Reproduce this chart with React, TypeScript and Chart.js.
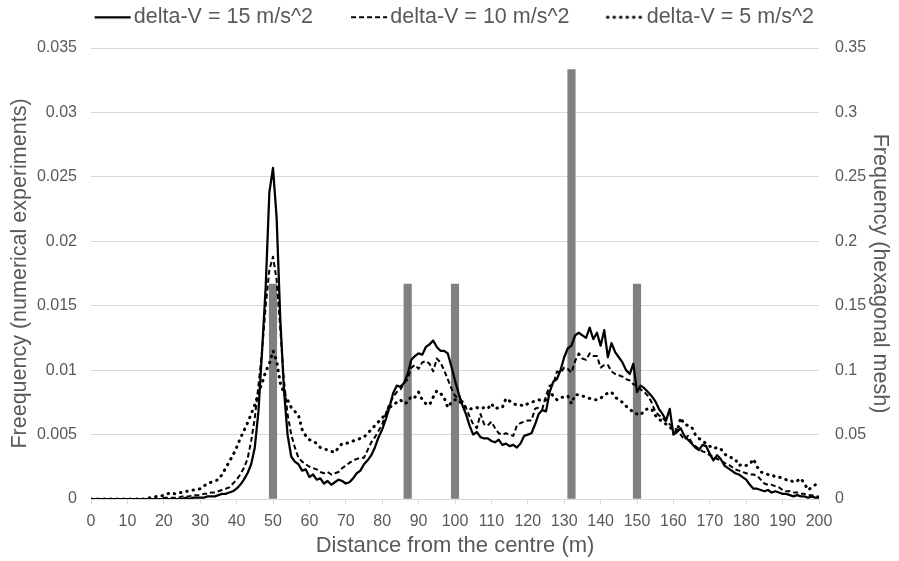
import React, { useEffect, useRef } from "react";
import { Chart, registerables } from "chart.js";

Chart.register(...registerables);

// Distance from the centre (m), one point per metre
const DISTANCE: number[] = Array.from({ length: 201 }, (_, i) => i);

const SERIES_LABELS = ["delta-V = 15 m/s^2", "delta-V = 10 m/s^2", "delta-V = 5 m/s^2"];

const FREQ_DV15: number[] = [
  0, 0, 0, 0, 0, 0, 0, 0, 0, 0,
  0, 0, 0, 0, 0, 0, 0, 0, 0, 0,
  0, 0, 0, 0, 0, 0, 0.0001, 0, 0.0001, 0.0001,
  0.0001, 0.0001, 0.0002, 0.0002, 0.0002, 0.0003, 0.0004, 0.0004, 0.0005, 0.0006,
  0.0008, 0.0011, 0.0015, 0.002, 0.0027, 0.004, 0.0068, 0.0115, 0.0165, 0.0238,
  0.0257, 0.0218, 0.014, 0.0085, 0.005, 0.0033, 0.0029, 0.0027, 0.0022, 0.0023,
  0.0017, 0.0019, 0.0015, 0.0016, 0.0012, 0.0014, 0.0011, 0.0013, 0.0015, 0.0014,
  0.0012, 0.0013, 0.0016, 0.002, 0.0022, 0.0027, 0.003, 0.0034, 0.004, 0.0048,
  0.0054, 0.0062, 0.0071, 0.0082, 0.0088, 0.0087, 0.009, 0.0097, 0.0108, 0.0111,
  0.0113, 0.0112, 0.0118, 0.012, 0.0123, 0.0118, 0.0115, 0.0115, 0.0113, 0.0103,
  0.0092, 0.0082, 0.0073, 0.0066, 0.0057, 0.005, 0.0052, 0.0048, 0.0047, 0.0047,
  0.0045, 0.0044, 0.0046, 0.0042, 0.0043, 0.0041, 0.0042, 0.004, 0.0043, 0.0049,
  0.005, 0.0051, 0.0058, 0.0066, 0.0069, 0.0068, 0.0083, 0.0091, 0.0093, 0.01,
  0.011, 0.0117, 0.0119, 0.0127, 0.0129, 0.0127, 0.0125, 0.0133, 0.0124, 0.0129,
  0.0119, 0.0131, 0.011, 0.0121, 0.0114, 0.011, 0.0106, 0.01, 0.0097, 0.0105,
  0.0083, 0.0088, 0.0086, 0.0083, 0.008, 0.0076, 0.007, 0.0066, 0.0061, 0.007,
  0.005, 0.0052, 0.0055, 0.0049, 0.0046, 0.0043, 0.004, 0.0038, 0.0042, 0.0041,
  0.0035, 0.003, 0.0034, 0.0031, 0.0026, 0.0024, 0.0022, 0.002, 0.0019, 0.0017,
  0.0015, 0.0011, 0.0008, 0.0008, 0.0007, 0.0006, 0.0007, 0.0005, 0.0006, 0.0005,
  0.0004, 0.0004, 0.0003, 0.0002, 0.0003, 0.0002, 0.0002, 0.0001, 0.0002, 0.0001,
  0.0001,
];

const FREQ_DV10: number[] = [
  0, 0, 0, 0, 0, 0, 0, 0, 0, 0,
  0, 0, 0, 0, 0, 0, 0, 0, 0, 0,
  0.0001, 0.0001, 0.0001, 0.0001, 0.0001, 0.0002, 0.0002, 0.0002, 0.0003, 0.0003,
  0.0003, 0.0004, 0.0004, 0.0005, 0.0005, 0.0006, 0.0007, 0.0008, 0.0009, 0.0012,
  0.0015, 0.0019, 0.0024, 0.0031, 0.0045, 0.0063, 0.0088, 0.0115, 0.015, 0.0178,
  0.0188, 0.017, 0.0132, 0.0092, 0.0066, 0.005, 0.004, 0.0032, 0.0029, 0.0027,
  0.0025, 0.0024, 0.0023, 0.0021, 0.002, 0.0021, 0.0019, 0.002, 0.0021, 0.0024,
  0.0026, 0.0028, 0.003, 0.0031, 0.0032, 0.0032, 0.0038, 0.0044, 0.0048, 0.0053,
  0.0058, 0.0066, 0.0074, 0.0079, 0.0083, 0.0085, 0.009, 0.0093, 0.0102, 0.0104,
  0.0101, 0.0106, 0.0107, 0.0105, 0.0099, 0.0109, 0.0106, 0.01, 0.0093, 0.0086,
  0.008, 0.0078, 0.0076, 0.0071, 0.0064, 0.0058, 0.0055, 0.0066, 0.0058, 0.0057,
  0.006, 0.0055, 0.0051, 0.005, 0.0051, 0.005, 0.0049, 0.0057, 0.0059, 0.006,
  0.0061, 0.0061, 0.007, 0.0071, 0.007, 0.008, 0.0088, 0.0089, 0.0099, 0.0098,
  0.0102, 0.0101, 0.0098, 0.0107, 0.0113, 0.0109, 0.0108, 0.0113, 0.0111, 0.0111,
  0.0102, 0.0104, 0.0104, 0.0099, 0.0097, 0.0096, 0.0095, 0.0093, 0.0092, 0.0089,
  0.0088, 0.0085, 0.0083, 0.008, 0.0075, 0.0068, 0.0065, 0.0063, 0.006, 0.0058,
  0.0055, 0.0054, 0.005, 0.0046, 0.0049, 0.0044, 0.0041, 0.0039, 0.0037, 0.0036,
  0.0034, 0.0033, 0.0031, 0.003, 0.0028, 0.0027, 0.0025, 0.0023, 0.0022, 0.0021,
  0.002, 0.0019, 0.0019, 0.0018, 0.0015, 0.0012, 0.0011, 0.0011, 0.001, 0.0009,
  0.0007, 0.0006, 0.0006, 0.0005, 0.0005, 0.0004, 0.0004, 0.0003, 0.0003, 0.0002,
  0.0002,
];

const FREQ_DV5: number[] = [
  0, 0, 0, 0, 0, 0, 0, 0, 0, 0,
  0, 0, 0, 0, 0, 0, 0.0001, 0.0001, 0.0002, 0.0002,
  0.0003, 0.0004, 0.0005, 0.0004, 0.0005, 0.0005, 0.0006, 0.0006, 0.0007, 0.0007,
  0.0008, 0.001, 0.0012, 0.0013, 0.0014, 0.0015, 0.0019, 0.0024, 0.0029, 0.0034,
  0.004, 0.0047, 0.0053, 0.0059, 0.0066, 0.0073, 0.0082, 0.009, 0.0099, 0.0105,
  0.0115, 0.0107, 0.009, 0.0082, 0.0077, 0.0071, 0.0068, 0.0065, 0.0054, 0.0049,
  0.0046, 0.0045, 0.0043, 0.004, 0.0039, 0.0038, 0.0037, 0.0036, 0.004, 0.0043,
  0.0043, 0.0044, 0.0045, 0.0046, 0.0047, 0.0048, 0.0051, 0.0054, 0.0057, 0.006,
  0.0063, 0.0066, 0.0071, 0.0073, 0.0075, 0.0077, 0.0074, 0.0075, 0.008, 0.0079,
  0.0083, 0.0077, 0.0074, 0.0073, 0.0079, 0.0084, 0.0082, 0.0079, 0.0071, 0.0075,
  0.0077, 0.0077, 0.0073, 0.0071, 0.007, 0.007, 0.0071, 0.007, 0.0071, 0.007,
  0.0074, 0.007, 0.0071, 0.0071, 0.0078, 0.0076, 0.0074, 0.0073, 0.0073, 0.0072,
  0.0074, 0.0075, 0.0076, 0.0077, 0.0076, 0.0077, 0.0083, 0.008, 0.0077, 0.0079,
  0.0079, 0.008, 0.0074, 0.0081, 0.0081, 0.008, 0.0079, 0.0078, 0.0077, 0.0077,
  0.0078, 0.0081, 0.0082, 0.0083, 0.0079, 0.0077, 0.0075, 0.0072, 0.007, 0.0067,
  0.0066, 0.0065, 0.0069, 0.007, 0.007, 0.0065, 0.0062, 0.006, 0.0058, 0.0056,
  0.0053, 0.0052, 0.0063, 0.0058, 0.0057, 0.0056, 0.005, 0.0047, 0.0045, 0.0043,
  0.0041, 0.0039, 0.004, 0.0039, 0.0035, 0.0033, 0.0032, 0.0031, 0.0026, 0.0027,
  0.0026, 0.0027, 0.0031, 0.0025, 0.0021, 0.002, 0.0019, 0.0019, 0.0017, 0.0017,
  0.0016, 0.0015, 0.0015, 0.0013, 0.0014, 0.0016, 0.0012, 0.0007, 0.0009, 0.0011,
  0.001,
];

// Hexagonal mesh frequencies (right axis)
const MESH_DISTANCE: number[] = [50, 87, 100, 132, 150];
const MESH_FREQ: number[] = [0.1667, 0.1667, 0.1667, 0.3333, 0.1667];

const TEXT = "#595959";
const GRID = "#d9d9d9";
const FONT = "'Liberation Sans', Arial, sans-serif";

const LEGEND_FONT = 21.5;
const LEGEND_BOX = 62;
const LEFT_SHIFT = 24;

const LINE_STYLES = [
  { width: 2.25, dash: [] as number[], cap: "butt" as CanvasLineCap },
  { width: 2, dash: [5, 3], cap: "butt" as CanvasLineCap },
  { width: 3, dash: [0.5, 6], cap: "round" as CanvasLineCap },
];

function legendSample(i: number): HTMLCanvasElement {
  const w = LEGEND_BOX + 17;
  const c = document.createElement("canvas");
  c.width = w;
  c.height = 8;
  const ctx = c.getContext("2d")!;
  const st = LINE_STYLES[i];
  ctx.strokeStyle = "#000";
  ctx.lineWidth = st.width;
  ctx.lineCap = st.cap;
  ctx.setLineDash(st.dash);
  ctx.beginPath();
  ctx.moveTo(w - 37, 4);
  ctx.lineTo(w - 1, 4);
  ctx.stroke();
  return c;
}

export default function App() {
  const ref = useRef<HTMLCanvasElement | null>(null);

  useEffect(() => {
    if (!ref.current) return;
    const samples = [0, 1, 2].map(legendSample);
    const pts = (arr: number[]) => arr.map((v, i) => ({ x: DISTANCE[i], y: v }));
    const lineDs = (i: number, data: number[]) => ({
      type: "line" as const,
      label: SERIES_LABELS[i],
      data: pts(data),
      borderColor: "#000",
      backgroundColor: "#000",
      borderWidth: LINE_STYLES[i].width,
      borderDash: LINE_STYLES[i].dash,
      borderCapStyle: LINE_STYLES[i].cap,
      borderJoinStyle: "round" as CanvasLineJoin,
      pointRadius: 0,
      tension: 0,
      yAxisID: "y",
      order: i,
    });
    const chart = new Chart(ref.current, {
      type: "line",
      data: {
        datasets: [
          lineDs(0, FREQ_DV15),
          lineDs(1, FREQ_DV10),
          lineDs(2, FREQ_DV5),
          {
            type: "bar",
            label: "Hexagonal mesh",
            data: MESH_DISTANCE.map((d, i) => ({ x: d, y: MESH_FREQ[i] })),
            backgroundColor: "#808080",
            borderWidth: 0,
            barThickness: 7.5,
            yAxisID: "y2",
            order: 10,
          } as any,
        ],
      },
      options: {
        responsive: false,
        animation: false,
        events: [],
        layout: { padding: { top: 2, left: -LEFT_SHIFT, right: 0, bottom: 0 } },
        plugins: {
          tooltip: { enabled: false },
          title: {
            display: true,
            text: "",
            position: "top",
            weight: 500,
            font: { size: 1 },
            padding: { top: 0, bottom: 8.8 },
          } as any,
          legend: {
            position: "top",
            labels: {
              usePointStyle: true,
              pointStyleWidth: LEGEND_BOX,
              color: TEXT,
              font: { family: FONT, size: LEGEND_FONT },
              padding: 4.5,
              generateLabels: (ch: any) =>
                Chart.defaults.plugins.legend.labels
                  .generateLabels(ch)
                  .filter((it: any) => it.datasetIndex < 3)
                  .map((it: any) => ({ ...it, pointStyle: samples[it.datasetIndex] })),
            },
          },
        },
        scales: {
          x: {
            type: "linear",
            min: 0,
            max: 200,
            offset: false,
            grid: {
              offset: false,
              drawOnChartArea: false,
              drawTicks: true,
              tickLength: 5,
              color: GRID,
            },
            border: { display: true, color: GRID },
            ticks: {
              stepSize: 10,
              autoSkip: false,
              maxRotation: 0,
              color: TEXT,
              font: { family: FONT, size: 16 },
              padding: 8,
            },
            title: {
              display: true,
              text: "Distance from the centre (m)",
              color: TEXT,
              font: { family: FONT, size: 22 },
              padding: { top: 2, bottom: 2 },
            },
            afterFit: (s: any) => {
              s.height = 62;
            },
          },
          y: {
            type: "linear",
            position: "left",
            min: 0,
            max: 0.035,
            grid: { color: GRID, drawTicks: false },
            border: { display: false },
            ticks: {
              stepSize: 0.005,
              color: TEXT,
              font: { family: FONT, size: 16 },
              padding: 14,
              callback: (v: any) => String(Math.round(Number(v) * 1000) / 1000),
            },
            title: {
              display: true,
              text: "Freequency (numerical experiments)",
              color: TEXT,
              font: { family: FONT, size: 21.5 },
              padding: { top: 7 + LEFT_SHIFT, bottom: 0 },
            },
            afterFit: (s: any) => {
              s.width = 91 + LEFT_SHIFT;
            },
          },
          y2: {
            type: "linear",
            position: "right",
            min: 0,
            max: 0.35,
            grid: { drawOnChartArea: false, drawTicks: false },
            border: { display: false },
            ticks: {
              stepSize: 0.05,
              color: TEXT,
              font: { family: FONT, size: 16 },
              padding: 16,
              callback: (v: any) => String(Math.round(Number(v) * 100) / 100),
            },
            title: {
              display: true,
              text: "Frequency (hexagonal mesh)",
              color: TEXT,
              font: { family: FONT, size: 21.5 },
              padding: { top: 6, bottom: 0 },
            },
            afterFit: (s: any) => {
              s.width = 80;
            },
          },
        },
      },
    });
    return () => chart.destroy();
  }, []);

  return (
    <div style={{ position: "fixed", left: 0, top: 0, width: 899, height: 561, background: "#fff" }}>
      <canvas ref={ref} width={899} height={561} style={{ width: 899, height: 561 }} />
    </div>
  );
}
